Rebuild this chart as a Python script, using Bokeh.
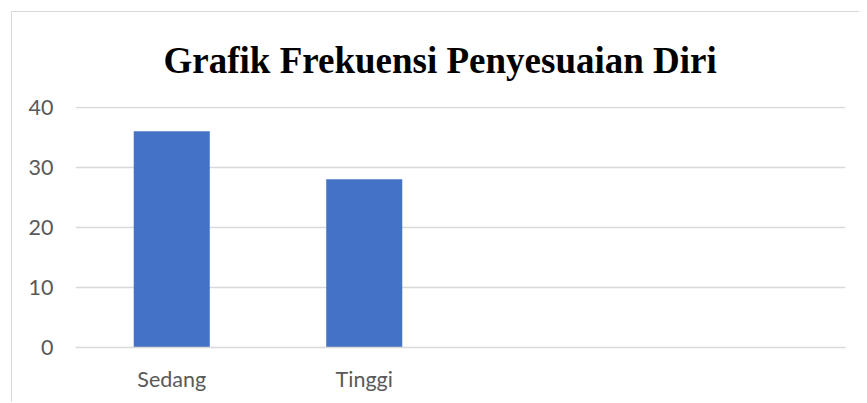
from bokeh.plotting import figure
from bokeh.models import FixedTicker, ColumnDataSource
from bokeh.embed import file_html
from bokeh.resources import INLINE

categories = ["Sedang", "Tinggi", " ", "  "]
values = [36, 28]
y_ticks = [0, 10, 20, 30, 40]
title_text = "Grafik Frekuensi Penyesuaian Diri"

src = ColumnDataSource(dict(cat=categories[:len(values)], val=values))

p = figure(frame_width=770, frame_height=241, x_range=categories, y_range=(0, 40.1),
           output_backend="svg", toolbar_location=None,
           min_border_left=63, min_border_right=14, min_border_bottom=55, min_border_top=94)

p.styles = {"border-left": "1.5px solid #d9d9d9", "border-top": "1.5px solid #d9d9d9",
            "margin-left": "11px", "margin-top": "11px"}

p.vbar(x="cat", top="val", width=0.395, source=src, color="#4472C4", line_color=None)

p.title.text = title_text
p.title.align = "left"
p.title.offset = 88
p.title.vertical_align = "bottom"
p.title.standoff = 51
p.title.text_font = "Liberation Serif"
p.title.text_font_style = "bold"
p.title.text_font_size = "37px"
p.title.text_color = "#000000"

p.outline_line_color = None
p.background_fill_color = "white"
p.border_fill_color = "white"

p.xgrid.grid_line_color = None
p.ygrid.grid_line_color = "#d9d9d9"
p.ygrid.grid_line_width = 1.5
p.yaxis.ticker = FixedTicker(ticks=y_ticks)

for ax in (p.xaxis, p.yaxis):
    ax.major_tick_line_color = None
    ax.minor_tick_line_color = None
    ax.major_tick_out = 0
    ax.major_tick_in = 0
    ax.major_label_text_font = "Lato"
    ax.major_label_text_font_size = "21.5px"
    ax.major_label_text_color = "#595959"
p.yaxis.axis_line_color = None
p.xaxis.axis_line_color = "#d9d9d9"
p.xaxis.axis_line_width = 1.5
p.yaxis.major_label_standoff = 22
p.xaxis.major_label_standoff = 18

open("out.html", "w").write(file_html(p, INLINE))
